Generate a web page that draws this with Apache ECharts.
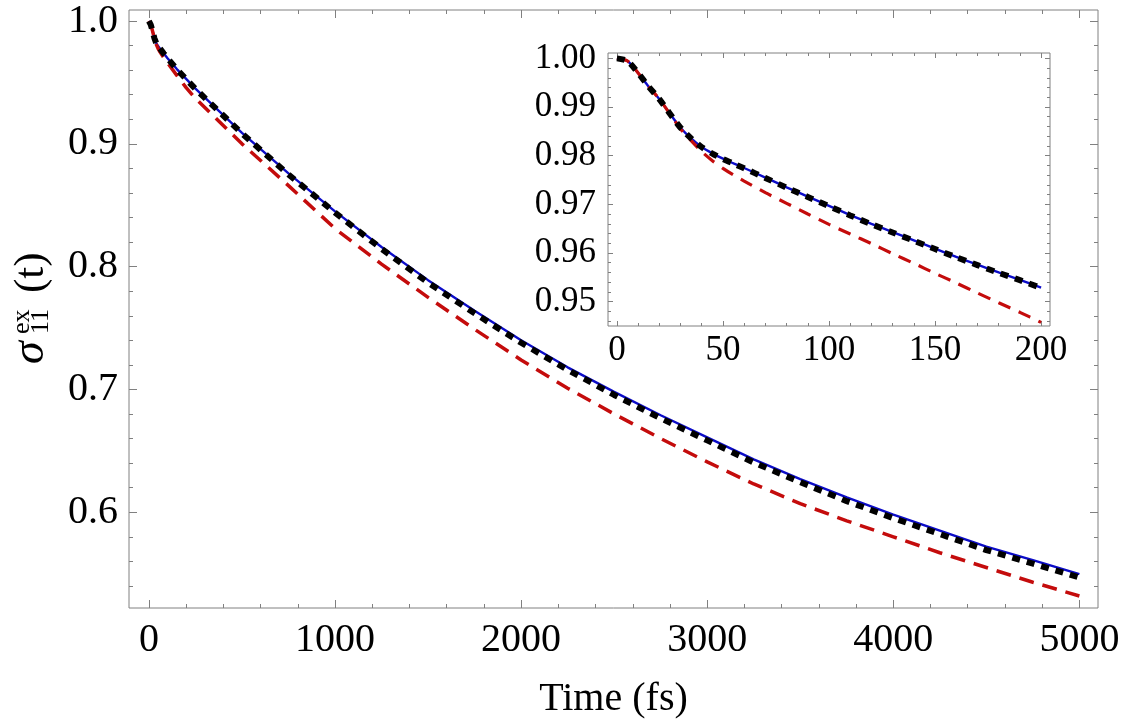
<!DOCTYPE html>
<html>
<head>
<meta charset="utf-8">
<script src="https://cdn.jsdelivr.net/npm/echarts@6/dist/echarts.min.js"></script>
<style>
html, body { margin: 0; padding: 0; background: #fff; }
#main { width: 1125px; height: 725px; }
</style>
</head>
<body>
<div id="main"></div>
<script>
// main plot, time in fs
var mainT = [0, 10, 20, 30, 40, 50, 60, 80, 100, 150, 200, 250, 500, 750, 1000, 1250, 1500, 1750, 2000, 2250, 2500, 2750, 3000, 3250, 3500, 3750, 4000, 4250, 4500, 4750, 5000];
var mainBlue = [1.0000, 0.9970, 0.9916, 0.9858, 0.9818, 0.9794, 0.9775, 0.9735, 0.9697, 0.9609, 0.9529, 0.9450, 0.9090, 0.8760, 0.8450, 0.8160, 0.7890, 0.7640, 0.7400, 0.7180, 0.6980, 0.6790, 0.6610, 0.6430, 0.6270, 0.6120, 0.5980, 0.5850, 0.5720, 0.5610, 0.5496];
var mainBlack = [1.0000, 0.9970, 0.9916, 0.9858, 0.9818, 0.9794, 0.9775, 0.9735, 0.9697, 0.9608, 0.9527, 0.9447, 0.9085, 0.8750, 0.8440, 0.8145, 0.7870, 0.7620, 0.7380, 0.7160, 0.6955, 0.6765, 0.6585, 0.6405, 0.6245, 0.6090, 0.5952, 0.5822, 0.5692, 0.5582, 0.5468];
var mainRed = [1.0000, 0.9970, 0.9916, 0.9855, 0.9808, 0.9774, 0.9748, 0.9702, 0.9659, 0.9558, 0.9458, 0.9370, 0.9000, 0.8660, 0.8310, 0.8020, 0.7750, 0.7490, 0.7240, 0.7010, 0.6800, 0.6600, 0.6410, 0.6230, 0.6070, 0.5930, 0.5800, 0.5670, 0.5550, 0.5430, 0.5318];

// inset, first 200 fs
var insetT = [0, 5, 10, 15, 20, 25, 30, 35, 40, 45, 50, 55, 60, 70, 80, 90, 100, 110, 120, 130, 140, 150, 160, 170, 180, 190, 200];
var insetBlue = [1.0000, 0.99945, 0.9970, 0.99418, 0.99164, 0.98863, 0.98575, 0.98356, 0.98178, 0.98048, 0.97938, 0.97842, 0.97747, 0.9755, 0.9735, 0.9716, 0.9697, 0.9678, 0.9660, 0.9643, 0.9626, 0.9609, 0.9592, 0.9576, 0.9560, 0.9545, 0.9529];
var insetBlack = [1.0000, 0.99945, 0.9970, 0.99418, 0.99164, 0.98863, 0.98575, 0.98356, 0.98175, 0.98043, 0.97932, 0.97835, 0.97740, 0.97543, 0.97343, 0.97152, 0.96962, 0.96772, 0.96592, 0.96422, 0.96252, 0.96082, 0.95912, 0.95752, 0.95592, 0.95442, 0.95282];
var insetRed = [1.0000, 0.99945, 0.9970, 0.99418, 0.99164, 0.9886, 0.9855, 0.98308, 0.98082, 0.97897, 0.9774, 0.97603, 0.97479, 0.9724, 0.97021, 0.96801, 0.96589, 0.9639, 0.96192, 0.95986, 0.95788, 0.95582, 0.95384, 0.95178, 0.94979, 0.94781, 0.94575];

// ticks
var mainXMajor = [0, 1000, 2000, 3000, 4000, 5000];
var mainXMinor = [0, 200, 400, 600, 800, 1000, 1200, 1400, 1600, 1800, 2000, 2200, 2400, 2600, 2800, 3000, 3200, 3400, 3600, 3800, 4000, 4200, 4400, 4600, 4800, 5000];
var mainYMajor = [0.6, 0.7, 0.8, 0.9, 1.0];
var mainYMinor = [0.54, 0.56, 0.58, 0.6, 0.62, 0.64, 0.66, 0.68, 0.7, 0.72, 0.74, 0.76, 0.78, 0.8, 0.82, 0.84, 0.86, 0.88, 0.9, 0.92, 0.94, 0.96, 0.98, 1.0];
var insetXMajor = [0, 50, 100, 150, 200];
var insetXMinor = [0, 10, 20, 30, 40, 50, 60, 70, 80, 90, 100, 110, 120, 130, 140, 150, 160, 170, 180, 190, 200];
var insetYMajor = [0.95, 0.96, 0.97, 0.98, 0.99, 1.00];
var insetYMinor = [0.946, 0.948, 0.95, 0.952, 0.954, 0.956, 0.958, 0.96, 0.962, 0.964, 0.966, 0.968, 0.97, 0.972, 0.974, 0.976, 0.978, 0.98, 0.982, 0.984, 0.986, 0.988, 0.99, 0.992, 0.994, 0.996, 0.998, 1.0];

var serif = '"Liberation Serif", "DejaVu Serif", serif';
var frame = '#808080';

function pairs(t, v) {
    return t.map(function (x, i) { return [x, v[i]]; });
}

// an axis that only draws inward ticks (and maybe labels)
function tickAxis(grid, pos, min, max, vals, len, label) {
    var ax = {
        type: 'value', gridIndex: grid, position: pos, min: min, max: max,
        axisLine: {show: false, onZero: false},
        splitLine: {show: false},
        axisTick: {show: true, inside: true, length: len, customValues: vals,
            lineStyle: {color: frame, width: 1}},
        axisLabel: {show: false}
    };
    if (label) {
        ax.axisLabel = Object.assign({show: true, customValues: vals, color: '#000',
            fontFamily: serif}, label);
    }
    return ax;
}

var mx = [-107, 5100], my = [0.522, 1.009];
var ix = [-4.2, 204.2], iy = [0.945, 1.0011];
var fmtInt = function (v) { return String(Math.round(v)); };

// grid 0/2 carry majors, grid 1/3 (same boxes) carry minors
var xAxes = [
    tickAxis(0, 'bottom', mx[0], mx[1], mainXMajor, 8, {fontSize: 40, margin: 12, formatter: fmtInt}),
    tickAxis(0, 'top', mx[0], mx[1], mainXMajor, 8),
    tickAxis(1, 'bottom', mx[0], mx[1], mainXMinor, 4),
    tickAxis(1, 'top', mx[0], mx[1], mainXMinor, 4),
    tickAxis(2, 'bottom', ix[0], ix[1], insetXMajor, 5, {fontSize: 35, margin: 7, formatter: fmtInt}),
    tickAxis(2, 'top', ix[0], ix[1], insetXMajor, 5),
    tickAxis(3, 'bottom', ix[0], ix[1], insetXMinor, 3),
    tickAxis(3, 'top', ix[0], ix[1], insetXMinor, 3)
];
xAxes[0].name = 'Time (fs)';
xAxes[0].nameLocation = 'middle';
xAxes[0].nameGap = 71;
xAxes[0].nameTextStyle = {fontSize: 40, fontFamily: serif, color: '#000'};

var yAxes = [
    tickAxis(0, 'left', my[0], my[1], mainYMajor, 8, {fontSize: 40, margin: 11,
        formatter: function (v) { return v.toFixed(1); }}),
    tickAxis(0, 'right', my[0], my[1], mainYMajor, 8),
    tickAxis(1, 'left', my[0], my[1], mainYMinor, 4),
    tickAxis(1, 'right', my[0], my[1], mainYMinor, 4),
    tickAxis(2, 'left', iy[0], iy[1], insetYMajor, 5, {fontSize: 35, margin: 12,
        formatter: function (v) { return v.toFixed(2); }}),
    tickAxis(2, 'right', iy[0], iy[1], insetYMajor, 5),
    tickAxis(3, 'left', iy[0], iy[1], insetYMinor, 3),
    tickAxis(3, 'right', iy[0], iy[1], insetYMinor, 3)
];

function line(name, xi, yi, data, style, smooth) {
    return {
        name: name, type: 'line', xAxisIndex: xi, yAxisIndex: yi,
        data: data, showSymbol: false, smooth: smooth,
        silent: true, animation: false, lineStyle: style, z: 3
    };
}

var blueStyle = {color: '#0c0cc8', width: 2.4};
var redStyle = {color: '#c40c0c', width: 3.5, type: [15, 9]};
var blackStyle = {color: '#000', width: 6, type: [8, 7]};

var myChart = echarts.init(document.getElementById('main'));
var option = {
    backgroundColor: '#fff',
    animation: false,
    grid: [
        {left: 129, top: 10, width: 969, height: 598, show: true,
            borderColor: frame, borderWidth: 1, backgroundColor: 'transparent'},
        {left: 129, top: 10, width: 969, height: 598, show: false},
        {left: 608, top: 53, width: 442, height: 273, show: true,
            borderColor: frame, borderWidth: 1, backgroundColor: '#fff'},
        {left: 608, top: 53, width: 442, height: 273, show: false}
    ],
    xAxis: xAxes,
    yAxis: yAxes,
    series: [
        line('exact', 0, 0, pairs(mainT, mainBlue), blueStyle, false),
        line('approx 2', 0, 0, pairs(mainT, mainRed), redStyle, false),
        line('approx 1', 0, 0, pairs(mainT, mainBlack), blackStyle, false),
        line('exact inset', 4, 4, pairs(insetT, insetBlue), blueStyle, 0.25),
        line('approx 2 inset', 4, 4, pairs(insetT, insetRed), {color: '#c40c0c', width: 3.2, type: [13, 9]}, 0.25),
        line('approx 1 inset', 4, 4, pairs(insetT, insetBlack), blackStyle, 0.25)
    ],
    graphic: [{
        type: 'group', x: 35, y: 307, rotation: Math.PI / 2,
        children: [
            {type: 'text', x: -57, y: -4, style: {text: 'σ', font: 'italic 46px ' + serif, fill: '#000', textAlign: 'left', textVerticalAlign: 'middle'}},
            {type: 'text', x: -27, y: -13, style: {text: 'ex', font: '26px ' + serif, fill: '#000', textAlign: 'left', textVerticalAlign: 'middle'}},
            {type: 'text', x: -27, y: 6, style: {text: '11', font: '26px ' + serif, fill: '#000', textAlign: 'left', textVerticalAlign: 'middle'}},
            {type: 'text', x: 14, y: -3, style: {text: '(t)', font: '43px ' + serif, fill: '#000', textAlign: 'left', textVerticalAlign: 'middle'}}
        ]
    }]
};
myChart.setOption(option);
</script>
</body>
</html>
